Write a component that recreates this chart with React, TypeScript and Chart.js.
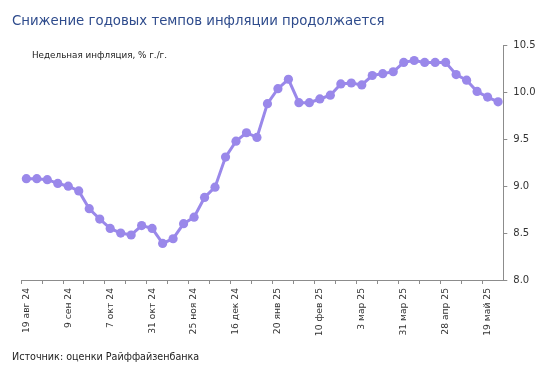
import React, { useEffect, useRef } from "react";
import { Chart, registerables } from "chart.js";

Chart.register(...registerables);

const TITLE = "Снижение годовых темпов инфляции продолжается";
const SUBTITLE = "Недельная инфляция, % г./г.";
const SOURCE = "Источник: оценки Райффайзенбанка";

// Tick labels shown every 4th category
const tickLabels = [
  "19 авг 24", "9 сен 24", "7 окт 24", "31 окт 24", "25 ноя 24", "16 дек 24",
  "20 янв 25", "10 фев 25", "3 мар 25", "31 мар 25", "28 апр 25", "19 май 25",
];

// Weekly inflation, % y/y
const inflation = [
  9.08, 9.08, 9.07, 9.03, 9.00, 8.95, 8.76, 8.65, 8.55, 8.50,
  8.48, 8.58, 8.55, 8.39, 8.44, 8.60, 8.67, 8.88, 8.99, 9.31,
  9.48, 9.57, 9.52, 9.88, 10.04, 10.14, 9.89, 9.89, 9.93, 9.97,
  10.09, 10.10, 10.08, 10.18, 10.20, 10.22, 10.32, 10.34, 10.32, 10.32,
  10.32, 10.19, 10.13, 10.01, 9.95, 9.90,
];

const yMin = 8.0;
const yMax = 10.5;
const yStep = 0.5;

const categories = inflation.map((_, i) => (i % 4 === 0 ? tickLabels[i / 4] ?? "" : ""));

const FONT = "'DejaVu Sans', sans-serif";
const LINE_COLOR = "#9A88EA";
const AXIS_COLOR = "#8c8c8c";

export default function App() {
  const ref = useRef<HTMLCanvasElement | null>(null);

  useEffect(() => {
    if (!ref.current) return;
    const chart = new Chart(ref.current, {
      type: "line",
      data: {
        labels: categories,
        datasets: [
          {
            data: inflation,
            borderColor: LINE_COLOR,
            backgroundColor: LINE_COLOR,
            pointBackgroundColor: LINE_COLOR,
            pointBorderColor: LINE_COLOR,
            borderWidth: 3,
            pointRadius: 4.6,
            pointBorderWidth: 0,
            tension: 0,
          },
        ],
      },
      options: {
        responsive: false,
        animation: false,
        devicePixelRatio: 1,
        layout: { padding: { top: 45.5, left: 21.1, right: 0, bottom: 0 } },
        plugins: { legend: { display: false }, tooltip: { enabled: false }, title: { display: false } },
        scales: {
          x: {
            type: "category",
            offset: true,
            grid: {
              offset: true,
              drawOnChartArea: false,
              tickLength: 4,
              tickColor: (ctx: any) => (ctx.index % 2 === 0 ? AXIS_COLOR : "rgba(0,0,0,0)"),
              tickWidth: 1,
            },
            border: { color: AXIS_COLOR, width: 1 },
            ticks: {
              autoSkip: false,
              maxRotation: 90,
              minRotation: 90,
              padding: 4,
              color: "#333333",
              font: { family: FONT, size: 9.2 },
              callback: (_v: any, i: number) => categories[i],
            },
            afterFit: (s: any) => {
              s.height = 97;
            },
          },
          y: {
            position: "right",
            min: yMin,
            max: yMax,
            grid: { drawOnChartArea: false, tickLength: 4, tickColor: AXIS_COLOR },
            border: { color: AXIS_COLOR, width: 1 },
            ticks: {
              stepSize: yStep,
              padding: 6,
              color: "#333333",
              font: { family: FONT, size: 10 },
              callback: (v: any) => Number(v).toFixed(1),
            },
            afterFit: (s: any) => {
              s.width = 42.7;
            },
          },
        },
      },
    });
    return () => chart.destroy();
  }, []);

  return (
    <div style={{ position: "fixed", left: 0, top: 0, width: 546, height: 377, background: "#fff", overflow: "hidden" }}>
      <canvas ref={ref} width={546} height={377} style={{ display: "block", width: 546, height: 377 }} />
      <div
        style={{
          position: "absolute", left: 12, top: 13, fontFamily: FONT, fontSize: 13.3, lineHeight: "15px",
          color: "#2E4B8C", whiteSpace: "nowrap",
        }}
      >
        {TITLE}
      </div>
      <div
        style={{
          position: "absolute", left: 32, top: 50, fontFamily: FONT, fontSize: 8.8, lineHeight: "10px",
          color: "#222", whiteSpace: "nowrap",
        }}
      >
        {SUBTITLE}
      </div>
      <div
        style={{
          position: "absolute", left: 12, top: 351, fontFamily: FONT, fontSize: 9.6, lineHeight: "11px",
          color: "#222", whiteSpace: "nowrap",
        }}
      >
        {SOURCE}
      </div>
    </div>
  );
}
